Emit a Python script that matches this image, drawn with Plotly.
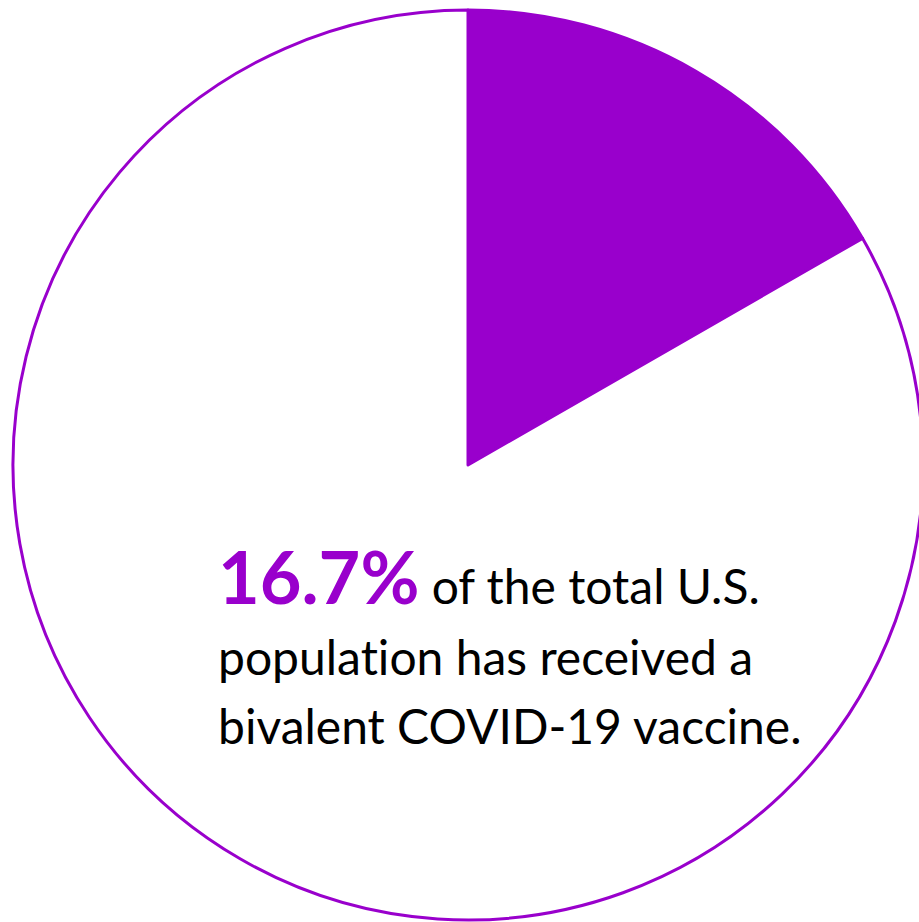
import plotly.graph_objects as go

labels = ["Received bivalent vaccine", "Not received"]
values = [16.7, 83.3]
colors = ["#9900CC", "#FFFFFF"]
headline = "16.7%"
line1 = " of the total U.S."
line2 = "population has received a"
line3 = "bivalent COVID-19 vaccine."

W, H = 923, 922
PURPLE = "#9900CC"
FONT = "Lato"

fig = go.Figure(go.Pie(
    labels=labels, values=values, sort=False, direction="clockwise", rotation=0,
    marker=dict(colors=colors, line=dict(color=PURPLE, width=3)),
    textinfo="none", hoverinfo="label+percent", showlegend=False,
    domain=dict(x=[13 / W, 1.0], y=[2 / H, 912 / H]),
))

def px_x(x):
    return x / W

def px_y(y):
    return (H - y) / H

common = dict(xref="paper", yref="paper", showarrow=False, xanchor="left",
              yanchor="middle", align="left")
fig.add_annotation(
    x=px_x(216), y=px_y(576),
    text=f"<span style='font-size:72px;color:{PURPLE}'><b>{headline}</b></span>{line1}",
    font=dict(family=FONT, size=48, color="black"), **common)
fig.add_annotation(x=px_x(216), y=px_y(656), text=line2,
                   font=dict(family=FONT, size=48, color="black"), **common)
fig.add_annotation(x=px_x(216), y=px_y(725), text=line3,
                   font=dict(family=FONT, size=48, color="black"), **common)

fig.update_layout(width=W, height=H, margin=dict(l=0, r=0, t=0, b=0),
                  paper_bgcolor="white", plot_bgcolor="white")

post = ("document.body.style.margin='0';document.body.style.overflow='hidden';"
        "var s=document.createElement('style');"
        "s.textContent='text{font-variant-ligatures:none !important;}';"
        "document.head.appendChild(s);")
fig.write_html("out.html", post_script=post, config={"displayModeBar": False})
